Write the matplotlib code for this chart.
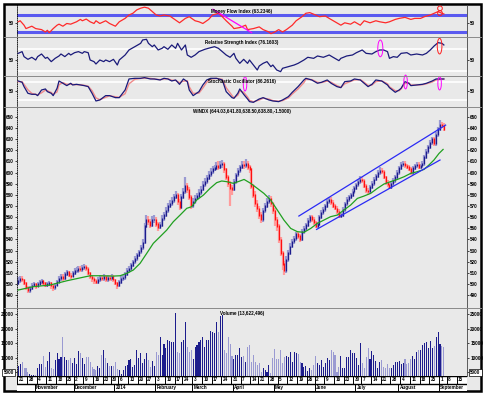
import numpy as np
import pandas as pd
import matplotlib
matplotlib.use("Agg")
import matplotlib.pyplot as plt
from matplotlib.patches import Rectangle, Ellipse
from matplotlib.lines import Line2D

plt.rcParams["font.family"] = ["Liberation Sans", "DejaVu Sans"]
plt.rcParams["font.weight"] = "bold"

# ---- data ----
start_day = "2013-10-21"
holidays = ["2013-11-28", "2013-12-25", "2014-01-01", "2014-01-20", "2014-02-17",
            "2014-04-18", "2014-05-26", "2014-07-04", "2014-09-01"]
month_names = {1: "2014", 2: "February", 3: "March", 4: "April", 5: "May", 6: "June",
               7: "July", 8: "August", 9: "September", 11: "November", 12: "December"}

first_open = 501
closes = [503, 505, 504, 501, 497, 494, 496, 499, 500, 498,
          500, 502, 503, 501, 499, 500, 501, 499, 497, 499,
          502, 505, 507, 505, 509, 511, 508, 507, 510, 512,
          512, 514, 513, 515, 516, 514, 510, 507, 505, 503,
          502, 504, 506, 505, 507, 504, 506, 505, 507, 504,
          501, 499, 502, 505, 506, 509, 512, 514, 517, 520,
          523, 526, 529, 533, 537, 552, 558, 556, 553, 558,
          558, 554, 551, 553, 559, 562, 566, 570, 572, 575,
          578, 580, 574, 569, 578, 583, 588, 585, 578, 571,
          574, 577, 579, 582, 585, 589, 592, 595, 598, 601,
          603, 604, 606, 605, 607, 608, 603, 596, 590, 586,
          585, 592, 598, 602, 605, 607, 606, 608, 605, 603,
          588, 580, 572, 568, 562, 558, 566, 570, 574, 577,
          572, 566, 558, 552, 540, 528, 518, 512, 522, 528,
          534, 538, 541, 545, 543, 540, 547, 550, 553, 557,
          560, 558, 555, 552, 554, 560, 564, 567, 570, 574,
          576, 573, 570, 568, 565, 561, 562, 567, 572, 576,
          578, 580, 583, 586, 589, 592, 594, 593, 588, 584,
          583, 587, 590, 594, 597, 600, 602, 601, 596, 591,
          589, 587, 590, 593, 596, 600, 604, 607, 608, 606,
          605, 603, 600, 604, 606, 607, 605, 606, 608, 614,
          619, 623, 627, 630, 626, 634, 639, 643, 642, 639]
highs = [506, 507, 507, 505, 502, 498, 498, 501, 502, 501,
         502, 504, 505, 504, 502, 502, 503, 502, 500, 501,
         504, 507, 509, 509, 511, 513, 512, 510, 512, 514,
         515, 516, 516, 517, 518, 517, 515, 511, 508, 506,
         505, 506, 508, 508, 509, 508, 508, 508, 509, 508,
         505, 502, 504, 507, 508, 511, 514, 516, 519, 522,
         525, 528, 531, 535, 540, 555, 562, 561, 558, 561,
         562, 560, 556, 556, 562, 565, 569, 573, 575, 578,
         581, 583, 582, 576, 581, 586, 596, 591, 587, 580,
         577, 580, 582, 585, 588, 592, 595, 598, 601, 604,
         606, 607, 609, 610, 610, 611, 609, 604, 598, 592,
         589, 594, 600, 604, 607, 610, 610, 612, 610, 607,
         604, 590, 583, 575, 570, 565, 568, 573, 577, 580,
         579, 574, 568, 560, 554, 542, 530, 521, 525, 531,
         537, 540, 543, 547, 547, 545, 549, 552, 555, 559,
         562, 562, 560, 557, 556, 562, 566, 569, 572, 576,
         578, 578, 575, 572, 570, 567, 564, 569, 574, 578,
         580, 582, 585, 588, 591, 594, 597, 596, 594, 590,
         586, 589, 592, 596, 599, 602, 605, 604, 602, 597,
         593, 591, 592, 595, 598, 602, 606, 609, 610, 610,
         608, 607, 605, 606, 608, 609, 609, 608, 610, 616,
         621, 625, 629, 632, 632, 636, 641, 647, 645, 644]
lows = [499, 501, 502, 499, 495, 492, 492, 495, 497, 496,
        497, 499, 500, 499, 497, 497, 498, 496, 494, 495,
        498, 501, 503, 503, 504, 507, 506, 505, 506, 508,
        510, 510, 511, 511, 513, 512, 508, 505, 502, 500,
        500, 500, 502, 503, 503, 502, 502, 503, 503, 502,
        499, 496, 497, 500, 503, 504, 507, 510, 512, 515,
        518, 521, 524, 527, 531, 536, 550, 553, 550, 551,
        555, 551, 548, 549, 551, 557, 560, 564, 568, 570,
        573, 576, 571, 566, 567, 576, 581, 582, 575, 567,
        568, 572, 575, 577, 580, 583, 587, 590, 593, 596,
        599, 601, 602, 602, 603, 604, 600, 593, 587, 570,
        580, 583, 590, 596, 600, 603, 603, 604, 602, 600,
        585, 577, 569, 565, 558, 555, 556, 564, 568, 572,
        569, 563, 552, 548, 537, 525, 513, 508, 510, 520,
        526, 532, 536, 539, 540, 538, 539, 545, 548, 551,
        555, 556, 553, 550, 550, 552, 558, 562, 565, 568,
        572, 571, 568, 566, 563, 559, 559, 560, 565, 570,
        574, 576, 578, 581, 584, 587, 590, 591, 586, 582,
        580, 581, 585, 588, 592, 595, 598, 599, 594, 589,
        587, 585, 585, 588, 591, 594, 598, 602, 605, 604,
        603, 601, 598, 598, 602, 604, 603, 603, 604, 606,
        612, 617, 621, 625, 624, 624, 632, 637, 640, 637]
volume_k = [7.1, 8.0, 8.6, 6.3, 6.3, 5.2, 4.4, 4.2, 4.0, 4.0,
            6.3, 7.7, 7.8, 10.6, 6.9, 8.9, 12.0, 6.3, 6.1, 9.2,
            11.5, 9.4, 10.2, 17.0, 10.3, 9.2, 9.2, 9.8, 8.1, 9.8,
            7.7, 12.3, 11.5, 9.8, 7.7, 10.1, 10.1, 8.4, 6.9, 6.1,
            5.8, 7.1, 6.5, 10.9, 12.6, 9.8, 8.1, 7.1, 7.2, 7.2,
            8.6, 6.0, 5.6, 4.4, 5.6, 7.1, 7.5, 9.2, 9.4, 6.9,
            7.5, 12.6, 9.8, 11.7, 8.1, 9.4, 11.5, 9.2, 6.9, 8.9,
            7.1, 12.0, 10.9, 17.2, 10.9, 14.9, 13.2, 16.1, 15.6, 15.5,
            15.5, 25.3, 12.0, 11.5, 15.5, 16.1, 22.4, 13.8, 12.0, 12.6,
            9.4, 13.8, 14.4, 15.5, 16.1, 17.0, 13.8, 16.1, 16.1, 19.3,
            18.9, 18.4, 22.4, 18.9, 24.4, 24.6, 12.6, 11.7, 17.0, 14.9,
            10.6, 9.4, 11.1, 11.1, 13.2, 10.3, 10.6, 8.6, 13.8, 14.4,
            8.6, 10.9, 8.6, 7.5, 8.1, 5.2, 6.3, 5.8, 5.2, 7.5,
            4.9, 9.8, 12.9, 9.7, 9.5, 12.6, 8.1, 10.1, 10.6, 10.1,
            12.0, 8.6, 12.0, 11.5, 11.3, 8.6, 8.1, 6.9, 7.1, 5.5,
            6.3, 5.9, 7.4, 10.6, 8.1, 7.5, 9.2, 6.9, 8.3, 9.8,
            9.2, 12.5, 12.1, 10.9, 5.2, 6.9, 10.6, 6.3, 6.3, 10.1,
            10.1, 12.8, 11.7, 11.5, 9.8, 7.5, 15.0, 8.1, 6.3, 10.1,
            13.2, 9.4, 12.4, 10.9, 9.0, 6.3, 8.6, 9.2, 6.9, 6.3,
            8.0, 6.3, 6.3, 7.5, 8.6, 8.6, 8.9, 7.8, 8.3, 9.4,
            7.8, 8.3, 9.4, 10.6, 9.4, 12.1, 12.6, 12.6, 14.4, 15.2,
            15.5, 13.2, 15.7, 13.2, 14.0, 17.0, 18.9, 14.6, 14.0, 13.8]

# moving average (green), (day, value)
ma_pts = [(0, 494.7), (7.8, 497.7), (16.4, 499.2), (25, 503.0), (37, 507.5), (42, 507.5),
          (49, 507.2), (52.4, 507.5), (55.8, 509.6), (59.2, 512.6), (62.7, 518.6), (66.1, 527.5),
          (69.5, 536.5), (73, 542.5), (76.4, 548.4), (79.8, 555.9), (83.3, 561.9), (86.7, 567.9),
          (89.3, 569.4), (91.8, 575.3), (95.3, 579.8), (98.7, 585.8), (102.1, 590.9), (104.7, 592.4),
          (107.3, 591.8), (110.7, 590.3), (114.1, 592.4), (116.2, 593.8), (119.6, 590.3), (123, 585.8),
          (126.4, 581.3), (129.9, 575.3), (133.3, 566.4), (136.7, 557.4), (140.2, 549.9), (143.6, 547.0),
          (147, 546.4), (150.5, 549.9), (153.9, 554.4), (157.3, 557.4), (160.7, 560.4), (164.2, 561.9),
          (167.6, 566.4), (171, 570.8), (174.5, 576.8), (177.9, 578.9), (181.3, 581.3), (184.8, 585.8),
          (188.2, 589.7), (191.6, 591.8), (195.1, 593.8), (198.5, 596.2), (201.9, 599.2), (205.3, 600.7),
          (208.8, 602.8), (211.3, 606.7), (213.9, 611.2), (216.5, 617.1), (218.6, 620.7)]

# trend channel on the price pane
channel = [((144.4, 561.0), (219.9, 642.5)), ((153.5, 549.0), (217.0, 611.2))]

mfi_pts = [(0, 54), (1, 56.4), (3, 46), (4, 38), (7, 43.6), (9, 38), (12, 35.6), (14, 30), (15, 34),
           (16, 28.4), (18, 38), (20, 46), (21, 48.4), (23, 43.6), (25, 50), (27, 48.4), (30, 54),
           (32, 59.6), (33, 56.4), (35, 60.4), (37, 54), (39, 50), (40, 56.4), (42, 50), (45, 56.4),
           (47, 50), (50, 43.6), (52, 54), (55, 62), (57, 70), (59, 74), (61, 82), (63, 86), (65, 88.4),
           (67, 86), (69, 78), (71, 70), (73, 67.6), (75, 70), (78, 67.6), (81, 58), (83, 51.6), (86, 62),
           (88, 66), (91, 56.4), (93, 54), (95, 50), (98, 59.6), (100, 70), (103, 74), (105, 66),
           (107, 56.4), (110, 43.6), (111, 38), (114, 40.4), (117, 46), (118, 35.6), (121, 38), (124, 42),
           (126, 35.6), (129, 30), (130, 26), (132, 30), (134, 35.6), (136, 30), (138, 35.6), (141, 46),
           (143, 56.4), (146, 66), (148, 74), (150, 75.6), (153, 70), (155, 66), (158, 67.6), (160, 62),
           (163, 54), (166, 46), (168, 51.6), (171, 48.4), (173, 54), (176, 46), (178, 56.4), (181, 51.6),
           (184, 56.4), (186, 54), (189, 51.6), (191, 54), (194, 59.6), (196, 62), (199, 64.4),
           (202, 59.6), (204, 62), (207, 62), (209, 66), (212, 70), (214, 74), (216, 78), (218, 74),
           (219, 72.4)]

rsi_pts = [(0, 62.7), (2, 65.8), (3, 56.7), (5, 51.8), (7, 55.5), (9, 50.6), (10, 56.7), (12, 61.5),
           (14, 53.6), (15, 55.5), (17, 47.6), (19, 53.6), (21, 57.9), (22, 61.5), (24, 56.7), (26, 62.7),
           (27, 59.7), (29, 63.9), (31, 65.8), (33, 62.7), (34, 65.8), (36, 63.9), (37, 50.6), (39, 47.6),
           (40, 43.3), (42, 50.6), (44, 47.6), (45, 50.6), (47, 47.6), (49, 51.8), (51, 41.5), (52, 50.6),
           (55, 59.7), (57, 68.8), (60, 74.8), (63, 80.9), (64, 87), (66, 88.2), (67, 80.9), (69, 74.8),
           (70, 77.9), (72, 68.8), (74, 71.8), (75, 74.8), (77, 70), (79, 77.9), (81, 71.8), (82, 80.9),
           (84, 68.8), (86, 77.9), (87, 59.7), (89, 55.5), (91, 59.7), (93, 65.8), (96, 70), (99, 73),
           (101, 74.8), (103, 71.8), (105, 65.8), (107, 59.7), (109, 55.5), (111, 62.7), (112, 53.6),
           (114, 44.5), (116, 51.8), (118, 44.5), (119, 50.6), (121, 41.5), (123, 32.4), (124, 39.7),
           (126, 44.5), (128, 47.6), (130, 38.5), (131, 41.5), (133, 32.4), (135, 29.4), (136, 35.5),
           (139, 38.5), (142, 41.5), (144, 44.5), (147, 50.6), (149, 55.5), (152, 53.6), (154, 57.9),
           (157, 55.5), (160, 59.7), (162, 55.5), (165, 49.4), (166, 53.6), (169, 57.9), (172, 59.7),
           (174, 63.9), (177, 68.8), (179, 62.7), (182, 61.5), (184, 65.8), (186, 68.8), (188, 68.8),
           (190, 65.8), (191, 53.6), (193, 56.7), (195, 55.5), (197, 62.7), (200, 63.9), (202, 59.7),
           (205, 61.5), (208, 59.7), (210, 62.7), (212, 68.8), (214, 76.1), (216, 82.1), (218, 80.9),
           (219, 77.9)]

# stochastic: (day, %K, %D)
stoch_pts = [(0, 84.4, 82), (2, 80, 82), (3, 65.6, 73), (5, 43.3, 55), (7, 40, 43), (9, 40, 40),
             (10, 35.6, 38), (12, 54.4, 45), (14, 57.8, 54), (15, 48.9, 52), (17, 43.3, 46),
             (18, 35.6, 40), (20, 60, 48), (21, 84.4, 72), (23, 76.7, 79), (25, 68.9, 73),
             (27, 76.7, 74), (28, 71.1, 73), (30, 73.3, 72), (32, 71.1, 72), (34, 68.9, 70),
             (36, 65.6, 67), (38, 43.3, 52), (40, 17.8, 28), (42, 21.1, 22), (45, 35.6, 30),
             (47, 35.6, 35), (50, 28.9, 32), (52, 28.9, 30), (55, 54.4, 42), (57, 91.1, 75),
             (60, 93.3, 90), (63, 93.3, 93), (65, 95.6, 94), (68, 91.1, 93), (70, 91.1, 91),
             (73, 87.8, 89), (75, 93.3, 91), (77, 91.1, 92), (79, 84.4, 87), (81, 87.8, 86),
             (83, 73.3, 79), (85, 91.1, 84), (87, 82.2, 85), (88, 54.4, 65), (90, 35.6, 43),
             (93, 48.9, 44), (95, 71.1, 61), (97, 87.8, 80), (99, 93.3, 91), (102, 93.3, 93),
             (105, 87.8, 90), (107, 48.9, 62), (110, 28.9, 36), (111, 26.7, 28), (113, 43.3, 37),
             (114, 57.8, 51), (116, 40, 47), (118, 24.4, 31), (119, 15.6, 20), (121, 13.3, 15),
             (124, 24.4, 21), (126, 28.9, 27), (129, 21.1, 24), (131, 17.8, 19), (134, 15.6, 17),
             (136, 21.1, 19), (139, 32.2, 28), (141, 46.7, 41), (144, 65.6, 58), (147, 87.8, 79),
             (148, 93.3, 90), (151, 87.8, 89), (154, 76.7, 80), (156, 80, 79), (159, 87.8, 84),
             (161, 76.7, 80), (164, 65.6, 69), (166, 62.2, 63), (168, 82.2, 75), (171, 84.4, 83),
             (173, 91.1, 88), (176, 87.8, 89), (178, 76.7, 80), (180, 65.6, 69), (182, 73.3, 71),
             (184, 87.8, 82), (187, 84.4, 85), (190, 71.1, 75), (191, 62.2, 65), (194, 46.7, 52),
             (196, 54.4, 52), (197, 60, 58), (199, 82.2, 76), (201, 76.7, 78), (202, 68.9, 71),
             (205, 71.1, 71), (208, 73.3, 72), (210, 76.7, 75), (213, 84.4, 81), (215, 91.1, 88),
             (217, 91.1, 90), (219, 91.1, 91)]

# hand-drawn marks: (day, value, width in days, height)
mfi_marks = [(217, 85.6, 2.4, 11), (217, 74.3, 2.4, 11.7)]
mfi_slash = [(100.2, 83.4), (120.1, 28.4)]
rsi_marks = [(186.3, 71.7, 2.6, 30.4, "#ff00ff"), (216.8, 75.8, 2.4, 28.5, "#ff2020")]
stoch_marks = [(116.7, 75, 1.8, 48), (199.3, 81, 1.8, 46), (216.8, 76.5, 1.8, 44)]

titles = {"mfi": "Money Flow Index (63.2346)",
          "rsi": "Relative Strength Index (76.1603)",
          "sto": "Stochastic Oscillator (86.2616)",
          "main": "WINDX (644.03,641.80,638.50,638.80,-1.5000)",
          "vol": "Volume (13,622,496)"}

# ---- layout helpers ----
W, H = 488, 395
BG = "#e9e9e9"
NAVY = "#1c1c8c"
LAV = "#9a9ad2"
RED = "#ff1010"
PINK = "#ff9c9c"
XL = (-0.62, 230.9)
FS = 3.3

fig = plt.figure(figsize=(W / 100, H / 100), dpi=100)
fig.patch.set_facecolor("white")
fig.patches.append(Rectangle((4 / W, 1 - 391 / H), 477 / W, 387 / H, transform=fig.transFigure,
                             facecolor=BG, edgecolor="black", lw=1.8, zorder=-5))


def panel(y0, y1, ylim, ticks):
    ax = fig.add_axes([17 / W, 1 - y1 / H, 450 / W, (y1 - y0) / H])
    ax.set_facecolor("none")
    ax.set_xlim(XL)
    ax.set_ylim(ylim)
    ax.spines["top"].set_visible(False)
    ax.spines["bottom"].set_visible(False)
    ax.spines["left"].set_linestyle((0, (1, 1.5)))
    ax.spines["left"].set_linewidth(0.6)
    ax.spines["right"].set_color("#444444")
    ax.spines["right"].set_linewidth(0.6)
    ax.set_xticks([])
    ax.set_yticks(ticks)
    ax.tick_params(axis="y", direction="out", length=1.5, width=0.5, pad=0.8, labelsize=FS,
                   left=True, right=True, labelleft=True, labelright=True)
    return ax


def title(y, txt):
    fig.text(242 / W, 1 - y / H, txt, ha="center", va="center", fontsize=FS, color="black")


for yy in (37, 76, 107, 308):
    fig.add_artist(Line2D([4 / W, 481 / W], [1 - yy / H, 1 - yy / H], color="#8a8a8a", lw=0.7))

# ---- Money Flow ----
ax1 = panel(5, 37, (18.2, 93.5), [50])
for lvl in (70, 30):
    ax1.axhline(lvl, color="#5a5af0", lw=2.2, zorder=1)
mx, mv = zip(*mfi_pts)
ax1.plot(mx, mv, color="#ff2a2a", lw=0.9, zorder=3)
sx, sy = zip(*mfi_slash)
ax1.plot(sx, sy, color="#ff00ff", lw=0.9, zorder=4)
for cx, cy, w, h in mfi_marks:
    ax1.add_patch(Ellipse((cx, cy), w, h, fill=False, ec="#ff2020", lw=0.7, clip_on=False, zorder=5))
title(11, titles["mfi"])

# ---- RSI ----
ax2 = panel(37, 76, (21.5, 92.4), [50])
for lvl in (70, 30):
    ax2.axhline(lvl, color="white", lw=1.2, zorder=1)
rx, rv = zip(*rsi_pts)
ax2.plot(rx, rv, color="#1a1a7a", lw=0.9, zorder=3)
for cx, cy, w, h, c in rsi_marks:
    ax2.add_patch(Ellipse((cx, cy), w, h, fill=False, ec=c, lw=0.7, clip_on=False, zorder=5))
title(42.5, titles["rsi"])

# ---- Stochastic ----
ax3 = panel(76, 107, (-2.3, 101), [50])
for lvl in (80, 20):
    ax3.axhline(lvl, color="white", lw=1.2, zorder=1)
kx, kk, kd = zip(*stoch_pts)
ax3.plot(kx, kd, color="#f08a8a", lw=1.0, zorder=3)
ax3.plot(kx, kk, color="#1a1a7a", lw=0.9, zorder=4)
for cx, cy, w, h in stoch_marks:
    ax3.add_patch(Ellipse((cx, cy), w, h, fill=False, ec="#ff00ff", lw=0.7, clip_on=False, zorder=5))
title(81, titles["sto"])

# ---- price ----
ax4 = panel(107, 308, (478.6, 658.7), list(range(490, 651, 10)))
c = np.array(closes, dtype=float)
o = np.concatenate([[first_open], c[:-1]])
hi = np.array(highs, dtype=float)
lo = np.array(lows, dtype=float)
idx = np.arange(len(c))
up = c >= o
for mask, wick, body in ((up, LAV, NAVY), (~up, PINK, RED)):
    ax4.vlines(idx[mask], lo[mask], hi[mask], color=wick, lw=1.6, zorder=2)
    ax4.vlines(idx[mask], np.minimum(o, c)[mask] - 0.6, np.maximum(o, c)[mask] + 0.6,
               color=body, lw=0.9, zorder=3)
ax_, av = zip(*ma_pts)
ax4.plot(ax_, av, color="#20a020", lw=0.9, zorder=4)
for (x0, y0), (x1, y1) in channel:
    ax4.plot([x0, x1], [y0, y1], color="#2a2af5", lw=0.9, zorder=5)
title(111, titles["main"])

# ---- volume ----
ax5 = panel(308, 376, (3700, 27140), [5000, 10000, 15000, 20000, 25000])
v = np.array(volume_k) * 1000
ax5.bar(idx, v - 3700, bottom=3700, width=0.55, color=np.where(up, NAVY, LAV), zorder=2)
for lab in ax5.get_yticklabels():
    if lab.get_text() == "5000":
        lab.set_bbox(dict(boxstyle="square,pad=0.25", fc="white", ec="black", lw=0.5))
title(313, titles["vol"])

# ---- date strip ----
cal = pd.bdate_range(start_day, "2014-09-30")
cal = cal[~cal.isin(pd.to_datetime(holidays))]
axd = fig.add_axes([17 / W, 1 - 391 / H, 450 / W, 15 / H])
axd.set_xlim(XL)
axd.set_ylim(0, 2)
axd.axis("off")
axd.add_patch(Rectangle((XL[0], 0), XL[1] - XL[0], 2, facecolor="white", edgecolor="none"))
axd.axhline(2, color="black", lw=1.0)
axd.axhline(1, color="black", lw=1.0)
cal_df = pd.DataFrame({"d": cal, "i": np.arange(len(cal))})
iso = cal_df["d"].dt.isocalendar()
cal_df["wk"] = iso["year"].astype(int) * 100 + iso["week"].astype(int)
for _, grp in cal_df.groupby("wk"):
    k = grp["i"].iloc[0]
    if k > XL[1] - 1:
        continue
    monday = grp["d"].iloc[0] - pd.Timedelta(days=grp["d"].iloc[0].weekday())
    axd.plot([k - 0.5, k - 0.5], [1, 2], color="black", lw=0.7)
    axd.text(k + 0.2, 1.5, str(monday.day), fontsize=FS, ha="left", va="center")
cal_df["mo"] = cal_df["d"].dt.year * 100 + cal_df["d"].dt.month
for _, grp in cal_df.groupby("mo"):
    k = grp["i"].iloc[0]
    m = grp["d"].iloc[0].month
    if k == 0 or m not in month_names or k > XL[1] - 1:
        continue
    axd.plot([k - 0.5, k - 0.5], [0, 1], color="black", lw=0.7)
    axd.text(k + 0.2, 0.5, month_names[m], fontsize=FS, ha="left", va="center")

fig.savefig("out.png", dpi=100, facecolor=fig.get_facecolor())
